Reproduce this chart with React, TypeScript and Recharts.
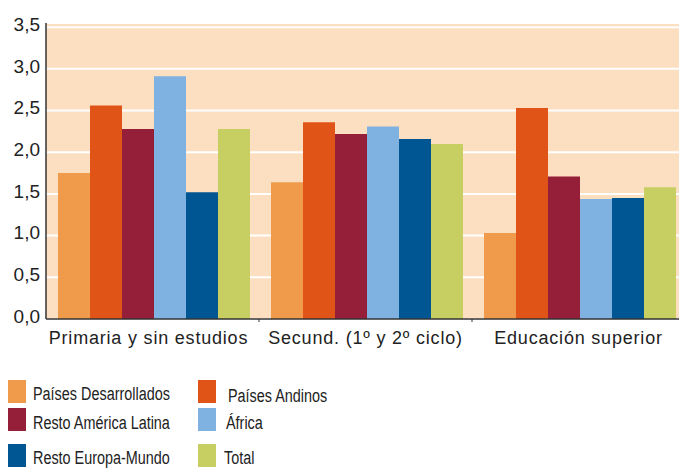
import { BarChart, Bar, XAxis, YAxis, CartesianGrid } from "recharts";

const categories = [
  "Primaria y sin estudios",
  "Secund. (1º y 2º ciclo)",
  "Educación superior",
];

const paisesDesarrollados = [1.75, 1.64, 1.03];
const paisesAndinos = [2.56, 2.36, 2.53];
const restoAmericaLatina = [2.28, 2.22, 1.71];
const africa = [2.91, 2.31, 1.44];
const restoEuropaMundo = [1.52, 2.16, 1.45];
const total = [2.28, 2.1, 1.58];

const yTicks = [0, 0.5, 1, 1.5, 2, 2.5, 3, 3.5];

const series = [
  { key: "des", name: "Países Desarrollados", values: paisesDesarrollados, color: "#F09A4B" },
  { key: "and", name: "Países Andinos", values: paisesAndinos, color: "#E05418" },
  { key: "ral", name: "Resto América Latina", values: restoAmericaLatina, color: "#951F38" },
  { key: "afr", name: "África", values: africa, color: "#7FB2E0" },
  { key: "rem", name: "Resto Europa-Mundo", values: restoEuropaMundo, color: "#005593" },
  { key: "tot", name: "Total", values: total, color: "#C8CF62" },
];

const data = categories.map((c, i) => {
  const row: Record<string, string | number> = { cat: c };
  for (const s of series) row[s.key] = s.values[i];
  return row;
});

const CHART_W = 685;
const Y_W = 46;
const CAT_W = (CHART_W - Y_W) / categories.length;
const AXIS_COLOR = "#333";
const FONT = "'Liberation Sans', Arial, sans-serif";

// legend layout: [left of square, top of square, left of text, top of text]
const legendPos = [
  [8, 380, 33, 385],
  [198, 380, 228, 387],
  [8, 408, 33, 414],
  [198, 408, 226, 414],
  [8, 444, 33, 449],
  [198, 444, 224, 449],
];

function XTick(props: any) {
  const { x, y, payload, index } = props;
  return (
    <g>
      <text
        x={x - (index === 0 ? 4 : 0)}
        y={y + 12}
        textAnchor="middle"
        fontSize={18}
        letterSpacing={0.8}
        fill="#222"
        fontFamily={FONT}
      >
        {payload.value}
      </text>
      {index < categories.length - 1 && (
        <line
          x1={x + CAT_W / 2}
          x2={x + CAT_W / 2}
          y1={y - 13}
          y2={y - 10}
          stroke={AXIS_COLOR}
          strokeWidth={1}
        />
      )}
    </g>
  );
}

export default function App() {
  return (
    <div
      style={{
        position: "absolute",
        left: 0,
        top: 0,
        width: 679,
        height: 468,
        overflow: "hidden",
        background: "#fff",
        fontFamily: FONT,
      }}
    >
      <BarChart
        width={CHART_W}
        height={360}
        data={data}
        margin={{ top: 23, right: 0, left: 0, bottom: 0 }}
        barGap={0}
        barCategoryGap={12}
      >
        <CartesianGrid
          vertical={false}
          stroke="#fff"
          strokeWidth={2}
          fill="#FCDFC1"
          fillOpacity={1}
        />
        <XAxis
          dataKey="cat"
          height={41}
          tickLine={false}
          tickSize={0}
          tickMargin={13}
          axisLine={{ stroke: AXIS_COLOR, strokeWidth: 1.5 }}
          tick={<XTick />}
          interval={0}
        />
        <YAxis
          width={Y_W}
          domain={[0, 3.55]}
          ticks={yTicks}
          allowDataOverflow
          tickLine={false}
          tickMargin={0}
          axisLine={{ stroke: AXIS_COLOR, strokeWidth: 1.5 }}
          tick={{ fontSize: 19, fill: "#222", fontFamily: FONT, dy: -3 }}
          tickFormatter={(v: number) => v.toFixed(1).replace(".", ",")}
        />
        {series.map((s) => (
          <Bar
            key={s.key}
            dataKey={s.key}
            name={s.name}
            fill={s.color}
            isAnimationActive={false}
          />
        ))}
      </BarChart>
      {series.map((s, i) => (
        <div key={s.key}>
          <div
            style={{
              position: "absolute",
              left: legendPos[i][0],
              top: legendPos[i][1],
              width: 18,
              height: 23,
              background: s.color,
            }}
          />
          <span
            style={{
              position: "absolute",
              left: legendPos[i][2],
              top: legendPos[i][3],
              fontSize: 18,
              lineHeight: "18px",
              color: "#222",
              whiteSpace: "nowrap",
              display: "inline-block",
              transform: "scaleX(0.8)",
              transformOrigin: "left center",
            }}
          >
            {s.name}
          </span>
        </div>
      ))}
    </div>
  );
}
